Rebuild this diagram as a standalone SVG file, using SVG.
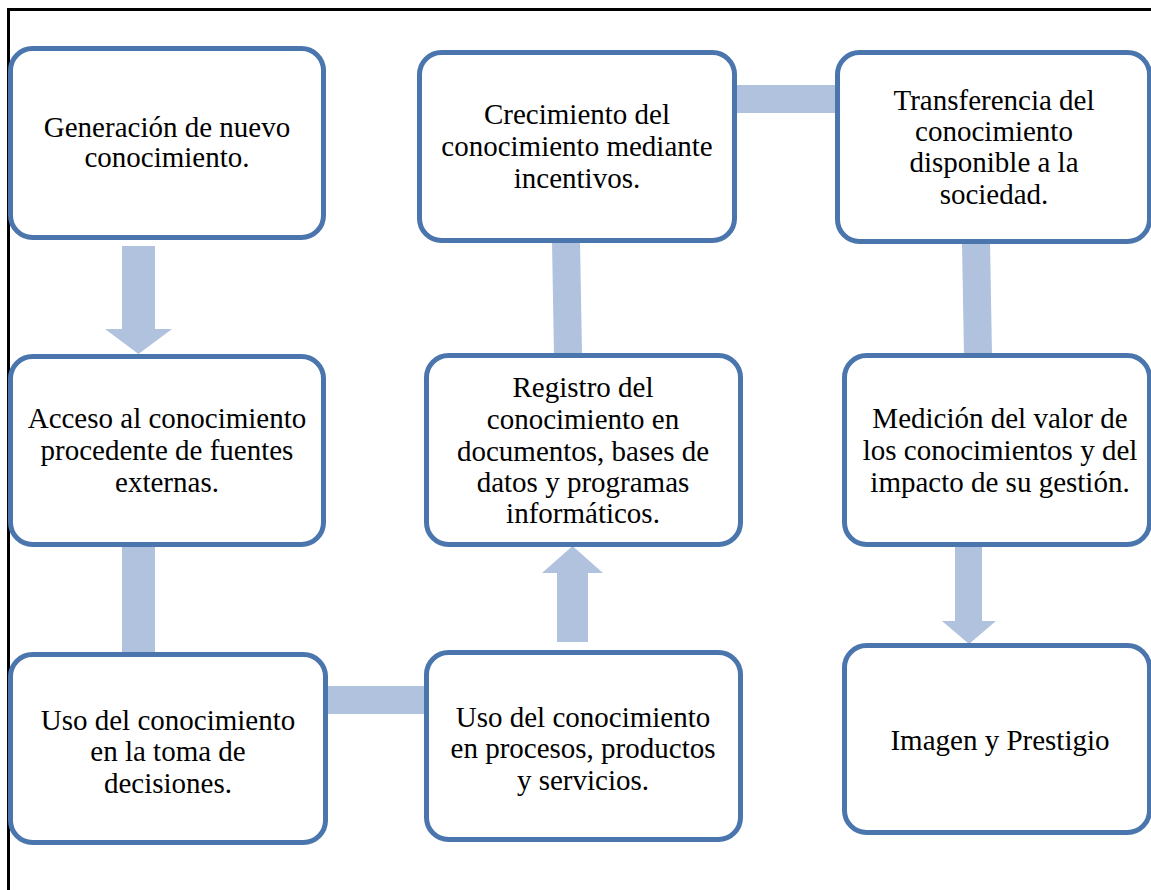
<svg xmlns="http://www.w3.org/2000/svg" width="1151" height="890" viewBox="0 0 1151 890">
  <style>
    .box { fill: #ffffff; stroke: #4a76ad; stroke-width: 5; }
    .link { fill: #b0c2dd; stroke: none; }
    .frame { fill: none; stroke: #000000; stroke-width: 3; }
    .lbl { font-size: 29px; fill: #000000; text-anchor: middle; }
  </style>
  <rect width="1151" height="890" fill="#ffffff"/>
  <!-- page frame: left and top rules -->
  <path class="frame" d="M8.5 890 V9.5 H1151"/>

  <!-- connectors -->
  <g id="connectors">
    <polygon class="link" points="122,246 155,246 155,329 172,329 138.5,354 105,329 122,329"/>
    <rect class="link" x="122" y="545" width="33" height="110"/>
    <rect class="link" x="326" y="686" width="100" height="28"/>
    <polygon class="link" points="557,642 588,642 588,573 603,573 572.5,546 542,573 557,573"/>
    <polygon class="link" points="552,241 580,241 582,355 554,355"/>
    <rect class="link" x="735" y="85" width="102" height="28"/>
    <polygon class="link" points="962,242 990,242 992,355 964,355"/>
    <polygon class="link" points="955,545 982,545 982,621 996,621 969,644 942,621 955,621"/>
  </g>

  <g id="n1">
    <rect class="box" x="10.5" y="48.5" width="313" height="189" rx="22"/>
    <text class="lbl" font-family="Times New Roman"><tspan x="167" y="137">Generación de nuevo</tspan><tspan x="167" y="167">conocimiento.</tspan></text>
  </g>
  <g id="n2">
    <rect class="box" x="10.5" y="356.5" width="313" height="188" rx="22"/>
    <text class="lbl" font-family="Times New Roman"><tspan x="167" y="428">Acceso al conocimiento</tspan><tspan x="167" y="460">procedente de fuentes</tspan><tspan x="167" y="492">externas.</tspan></text>
  </g>
  <g id="n3">
    <rect class="box" x="10.5" y="654.5" width="315" height="188" rx="22"/>
    <text class="lbl" font-family="Times New Roman"><tspan x="168" y="730">Uso del conocimiento</tspan><tspan x="168" y="761">en la toma de</tspan><tspan x="168" y="793">decisiones.</tspan></text>
  </g>
  <g id="n4">
    <rect class="box" x="426.5" y="652.5" width="314" height="187" rx="22"/>
    <text class="lbl" font-family="Times New Roman"><tspan x="583" y="727">Uso del conocimiento</tspan><tspan x="583" y="758">en procesos, productos</tspan><tspan x="583" y="790">y servicios.</tspan></text>
  </g>
  <g id="n5">
    <rect class="box" x="426.5" y="355.5" width="314" height="189" rx="22"/>
    <text class="lbl" font-family="Times New Roman"><tspan x="583" y="397">Registro del</tspan><tspan x="583" y="429">conocimiento en</tspan><tspan x="583" y="461">documentos, bases de</tspan><tspan x="583" y="492">datos y programas</tspan><tspan x="583" y="523">informáticos.</tspan></text>
  </g>
  <g id="n6">
    <rect class="box" x="419.5" y="52.5" width="315" height="188" rx="22"/>
    <text class="lbl" font-family="Times New Roman"><tspan x="577" y="124">Crecimiento del</tspan><tspan x="577" y="156">conocimiento mediante</tspan><tspan x="577" y="188">incentivos.</tspan></text>
  </g>
  <g id="n7">
    <rect class="box" x="837.5" y="52.5" width="312" height="189" rx="22"/>
    <text class="lbl" font-family="Times New Roman"><tspan x="994" y="110">Transferencia del</tspan><tspan x="994" y="141">conocimiento</tspan><tspan x="994" y="172">disponible a la</tspan><tspan x="994" y="204">sociedad.</tspan></text>
  </g>
  <g id="n8">
    <rect class="box" x="844.5" y="355.5" width="305" height="189" rx="22"/>
    <text class="lbl" font-family="Times New Roman"><tspan x="1000" y="428">Medición del valor de</tspan><tspan x="1000" y="460">los conocimientos y del</tspan><tspan x="1000" y="492">impacto de su gestión.</tspan></text>
  </g>
  <g id="n9">
    <rect class="box" x="844.5" y="645.5" width="305" height="187" rx="22"/>
    <text class="lbl" font-family="Times New Roman"><tspan x="1000" y="750">Imagen y Prestigio</tspan></text>
  </g>
</svg>
